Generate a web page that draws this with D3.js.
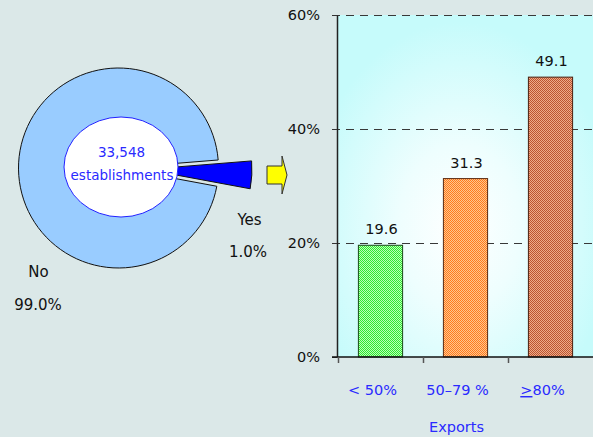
<!DOCTYPE html>
<html>
<head>
<meta charset="utf-8">
<script src="https://cdn.jsdelivr.net/npm/d3@7"></script>
<style>
  html, body { margin: 0; padding: 0; background: #dbe8e8; }
  svg { display: block; }
  text { font-family: "DejaVu Sans", Verdana, sans-serif; }
</style>
</head>
<body>
<svg id="chart" width="593" height="437"></svg>
<script>
// ---- data ----
const pieCategories = ["No", "Yes"];
const pieLabels = ["99.0%", "1.0%"];
const pieDrawnShares = [95.8, 4.2];   // slice sizes as drawn in the picture
const centerLabel = ["33,548", "establishments"];

const barCategories = ["< 50%", "50–79 %", "≥80%"];
const barValues = [19.6, 31.3, 49.1];
const yTicks = [0, 20, 40, 60];
const xTitle = "Exports";

// ---- setup ----
const svg = d3.select("#chart");
svg.append("rect").attr("width", 593).attr("height", 437).attr("fill", "#dbe8e8");
const defs = svg.append("defs");

// plot background gradient
const rg = defs.append("radialGradient").attr("id", "plotbg")
  .attr("cx", "48%").attr("cy", "62%").attr("r", "60%").attr("fx", "48%").attr("fy", "62%");
rg.append("stop").attr("offset", "0%").attr("stop-color", "#ffffff");
rg.append("stop").attr("offset", "40%").attr("stop-color", "#eefefe");
rg.append("stop").attr("offset", "100%").attr("stop-color", "#c6fbfb");

// checker patterns for bars
const patColors = [["#2ee82e", "#b8ffb8"], ["#ff7a1e", "#ffc58c"], ["#bb5530", "#eeaa88"]];
patColors.forEach((c, i) => {
  const p = defs.append("pattern").attr("id", "pat" + i).attr("patternUnits", "userSpaceOnUse")
    .attr("width", 2).attr("height", 2);
  p.append("rect").attr("width", 2).attr("height", 2).attr("fill", c[1]);
  p.append("rect").attr("width", 1).attr("height", 1).attr("fill", c[0]);
  p.append("rect").attr("x", 1).attr("y", 1).attr("width", 1).attr("height", 1).attr("fill", c[0]);
});

// ---- pie ----
const pcx = 118.5, pcy = 168, R = 100;
const yesStart = 85.4 * Math.PI / 180;
const yesSpan = (pieDrawnShares[1] / 100) * 2 * Math.PI;
const pie = d3.pie().sort(null).value(d => d)
  .startAngle(yesStart + yesSpan)
  .endAngle(yesStart + yesSpan + 2 * Math.PI);
const arcs = pie(pieDrawnShares);
const arcNo = d3.arc().innerRadius(0).outerRadius(R);
svg.append("g").attr("transform", `translate(${pcx},${pcy})`)
  .append("path").attr("d", arcNo(arcs[0]))
  .attr("fill", "#99ccff").attr("stroke", "#111").attr("stroke-width", 1);

// exploded Yes wedge
const yesArc = arcs[1];
const mid = (yesArc.startAngle + yesArc.endAngle) / 2;
const explode = 27.5;
const ex = Math.sin(mid) * explode, ey = -Math.cos(mid) * explode;
const arcYes = d3.arc().innerRadius(0).outerRadius(106);
svg.append("g").attr("transform", `translate(${pcx + ex},${pcy + ey})`)
  .append("path").attr("d", arcYes(yesArc))
  .attr("fill", "#0000ff").attr("stroke", "#111").attr("stroke-width", 1);

// center ellipse
svg.append("ellipse").attr("cx", 121).attr("cy", 167).attr("rx", 57).attr("ry", 50)
  .attr("fill", "#ffffff").attr("stroke", "#2020ff").attr("stroke-width", 1);
svg.append("text").attr("x", 121.5).attr("y", 157).attr("text-anchor", "middle")
  .attr("font-size", 13.5).attr("fill", "#2a2aff").text(centerLabel[0]);
svg.append("text").attr("x", 122).attr("y", 180).attr("text-anchor", "middle")
  .attr("font-size", 13.5).attr("fill", "#2a2aff").text(centerLabel[1]);

// pie labels
svg.append("text").attr("x", 249.5).attr("y", 225).attr("text-anchor", "middle")
  .attr("font-size", 15).attr("fill", "#111").text(pieCategories[1]);
svg.append("text").attr("x", 248).attr("y", 257).attr("text-anchor", "middle")
  .attr("font-size", 15).attr("fill", "#111").text(pieLabels[1]);
svg.append("text").attr("x", 38.5).attr("y", 277).attr("text-anchor", "middle")
  .attr("font-size", 15).attr("fill", "#111").text(pieCategories[0]);
svg.append("text").attr("x", 38).attr("y", 310).attr("text-anchor", "middle")
  .attr("font-size", 15).attr("fill", "#111").text(pieLabels[0]);

// yellow arrow (decoration)
svg.append("path")
  .attr("d", "M267,166 L282,166 L282,156 L287,175 L282,194 L282,184 L267,184 Z")
  .attr("fill", "#ffff00").attr("stroke", "#333").attr("stroke-width", 1);

// ---- bar chart ----
const x = d3.scaleBand().domain(barCategories).range([338, 593])
  .paddingInner(0.48).paddingOuter(0.24);
const y = d3.scaleLinear().domain([0, 60]).range([357, 15]);

svg.append("rect").attr("x", 337).attr("y", y(60)).attr("width", 593 - 337)
  .attr("height", y(0) - y(60)).attr("fill", "url(#plotbg)");

// gridlines
svg.append("g").selectAll("line").data(yTicks.filter(t => t > 0)).join("line")
  .attr("x1", 332).attr("x2", 593).attr("y1", d => y(d) + 0.5).attr("y2", d => y(d) + 0.5)
  .attr("stroke", "#383838").attr("stroke-width", 1).attr("stroke-dasharray", "8,6")
  .attr("shape-rendering", "crispEdges");

// bars
svg.append("g").selectAll("rect").data(barValues).join("rect")
  .attr("x", (d, i) => x(barCategories[i]))
  .attr("y", d => y(d))
  .attr("width", x.bandwidth())
  .attr("height", d => y(0) - y(d))
  .attr("fill", (d, i) => `url(#pat${i})`)
  .attr("stroke", (d, i) => ["#1a4a1a", "#5a2a10", "#4a2010"][i]).attr("stroke-width", 1);

// value labels
svg.append("g").selectAll("text").data(barValues).join("text")
  .attr("x", (d, i) => x(barCategories[i]) + x.bandwidth() / 2 + 1)
  .attr("y", d => y(d) - 11)
  .attr("text-anchor", "middle").attr("font-size", 14.5).attr("fill", "#111")
  .text(d => d.toFixed(1));

// y axis
const yAxis = svg.append("g").attr("transform", "translate(337,0)")
  .call(d3.axisLeft(y).tickValues(yTicks).tickFormat(d => d + "%").tickSize(5).tickSizeOuter(0));
yAxis.select(".domain").attr("stroke", "#222").attr("stroke-width", 1.5);
yAxis.selectAll(".tick line").attr("stroke", "#333");
yAxis.selectAll(".tick text").attr("font-size", 14.5).attr("fill", "#111")
  .attr("font-family", "DejaVu Sans, Verdana, sans-serif").attr("x", -17);

// x axis line
svg.append("line").attr("x1", 332).attr("x2", 593).attr("y1", y(0)).attr("y2", y(0))
  .attr("stroke", "#111").attr("stroke-width", 1.5);
// x ticks at band boundaries
const step = x.step();
svg.append("g").selectAll("line").data(barCategories).join("line")
  .attr("x1", d => x(d) - step * x.paddingOuter() + 0.5)
  .attr("x2", d => x(d) - step * x.paddingOuter() + 0.5)
  .attr("y1", y(0)).attr("y2", y(0) + 6)
  .attr("stroke", "#555").attr("stroke-width", 1.5);

// x labels
const labelShift = -8;
svg.append("g").selectAll("text").data(barCategories).join("text")
  .attr("x", d => x(d) + x.bandwidth() / 2 + labelShift)
  .attr("y", 395).attr("text-anchor", "middle").attr("font-size", 14.5).attr("fill", "#2a2aff")
  .each(function (d) {
    const t = d3.select(this);
    if (d.startsWith("≥")) {
      t.append("tspan").attr("text-decoration", "underline").text(">");
      t.append("tspan").text(d.slice(1));
    } else {
      t.text(d);
    }
  });

svg.append("text").attr("x", x(barCategories[1]) + x.bandwidth() / 2 + labelShift - 1).attr("y", 432)
  .attr("text-anchor", "middle").attr("font-size", 14.5).attr("fill", "#2a2aff").text(xTitle);
</script>
</body>
</html>
